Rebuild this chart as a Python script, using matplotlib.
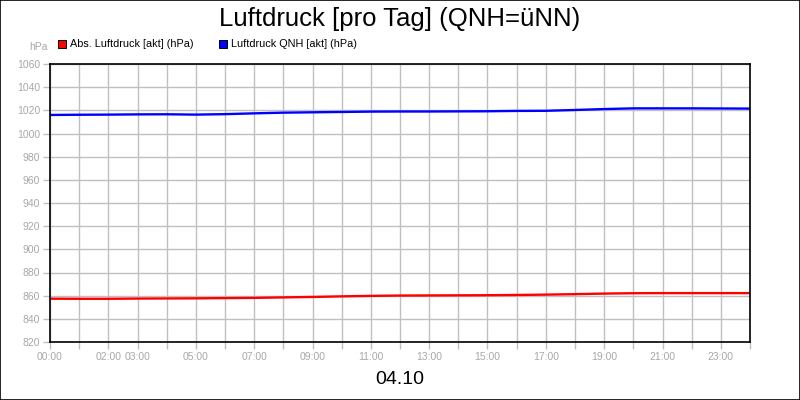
import matplotlib
matplotlib.use('Agg')
import matplotlib.pyplot as plt
from matplotlib.patches import Rectangle
import numpy as np

plt.rcParams['font.family'] = ['Liberation Sans', 'DejaVu Sans']

# Stunden des Tages (0..24)
hours = list(range(25))
abs_druck = [857.4, 857.3, 857.3, 857.5, 857.6, 857.7, 857.9, 858.1, 858.5,
             858.9, 859.4, 859.8, 860.1, 860.2, 860.3, 860.4, 860.6, 860.9,
             861.3, 861.8, 862.1, 862.2, 862.2, 862.2, 862.2]
qnh_druck = [1016.0, 1016.2, 1016.3, 1016.5, 1016.6, 1016.3, 1016.7, 1017.4,
             1018.0, 1018.3, 1018.6, 1018.9, 1019.0, 1019.0, 1019.1, 1019.2,
             1019.5, 1019.6, 1020.3, 1021.1, 1021.7, 1021.7, 1021.7, 1021.6,
             1021.5]
tick_labels = {0: '00:00', 2: '02:00', 3: '03:00', 5: '05:00', 7: '07:00',
               9: '09:00', 11: '11:00', 13: '13:00', 15: '15:00', 17: '17:00',
               19: '19:00', 21: '21:00', 23: '23:00'}
y_ticks = list(range(820, 1061, 20))

grau = '#a8a8a8'

fig = plt.figure(figsize=(8, 4), dpi=100)
fig.patch.set_facecolor('white')
fig.add_artist(Rectangle((0.0006, 0.0012), 0.9988, 0.9976, transform=fig.transFigure,
                         fill=False, edgecolor='black', linewidth=1.2))

ax = fig.add_axes([50 / 800, 58 / 400, 700 / 800, 278 / 400])
ax.plot(hours, abs_druck, color='#ff0000', linewidth=1.7, solid_capstyle='butt')
ax.plot(hours, qnh_druck, color='#0000ff', linewidth=1.7, solid_capstyle='butt')

ax.set_xlim(0, 24)
ax.set_ylim(820, 1060)
ax.set_xticks(hours)
ax.set_xticklabels([tick_labels.get(h, '') for h in hours])
ax.set_yticks(y_ticks)
ax.set_yticklabels([str(v) for v in y_ticks])
ax.grid(True, color='#c0c0c0', linewidth=1.0)
ax.set_axisbelow(True)
ax.tick_params(axis='both', colors='#c0c0c0', labelcolor=grau, length=5,
               width=1.0, labelsize=7.5, pad=2)
for sp in ax.spines.values():
    sp.set_color('black')
    sp.set_linewidth(1.2)

fig.text(0.5, 1 - 19 / 400, 'Luftdruck [pro Tag] (QNH=üNN)', ha='center',
         va='center', fontsize=18.5, color='black')
fig.text(48 / 800, 1 - 47 / 400, 'hPa', ha='right', va='center',
         fontsize=7.5, color=grau)

# Legende
for x0, farbe, text in [(58, '#ff0000', 'Abs. Luftdruck [akt] (hPa)'),
                        (219, '#0000ff', 'Luftdruck QNH [akt] (hPa)')]:
    fig.add_artist(Rectangle((x0 / 800, 1 - 48 / 400), 8 / 800, 8 / 400,
                             transform=fig.transFigure, facecolor=farbe,
                             edgecolor='black', linewidth=0.7))
    fig.text((x0 + 12) / 800, 1 - 44 / 400, text, ha='left', va='center',
             fontsize=7.8, color='black')

fig.text(0.5, 1 - 380 / 400, '04.10', ha='center', va='center',
         fontsize=14, color='black')

fig.savefig('out.png', dpi=100)
